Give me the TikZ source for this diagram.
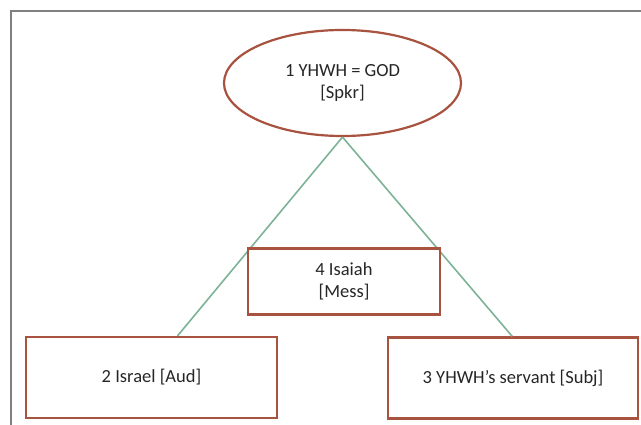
\documentclass[tikz,border=0pt]{standalone}
\usepackage{fontspec}
\setmainfont{Carlito}
\usetikzlibrary{shapes.geometric}
\definecolor{boxred}{RGB}{168,82,64}
\definecolor{linkgreen}{RGB}{125,178,150}
\definecolor{framegray}{RGB}{128,128,128}

\begin{document}
\begin{tikzpicture}[x=1pt,y=-1pt,
  every node/.style={font=\fontsize{18.5}{22}\selectfont, text=black!85, align=center},
  role/.style={draw=boxred, line width=2.2pt, fill=white, inner sep=0pt},
  link/.style={draw=linkgreen, line width=1.6pt}]
\useasboundingbox (0,0) rectangle (641,425);
\draw[framegray, line width=1.3pt] (641,11) -- (11,11) -- (11,425);
\node[role, ellipse, minimum width=237, minimum height=106] (god) at (342.5,83) {1 YHWH = GOD\\ {[Spkr]}};
\node[role, minimum width=251, minimum height=81] (israel) at (151.5,377.5) {2 Israel [Aud]};
\node[role, minimum width=250, minimum height=81] (servant) at (513,378) {3 YHWH’s servant [Subj]};
\draw[link] (god.south) -- (israel.58);
\draw[link] (god.south) -- (servant.91);
\node[role, minimum width=192, minimum height=66] (isaiah) at (344,281.5) {4 Isaiah\\ {[Mess]}};
\end{tikzpicture}
\end{document}
